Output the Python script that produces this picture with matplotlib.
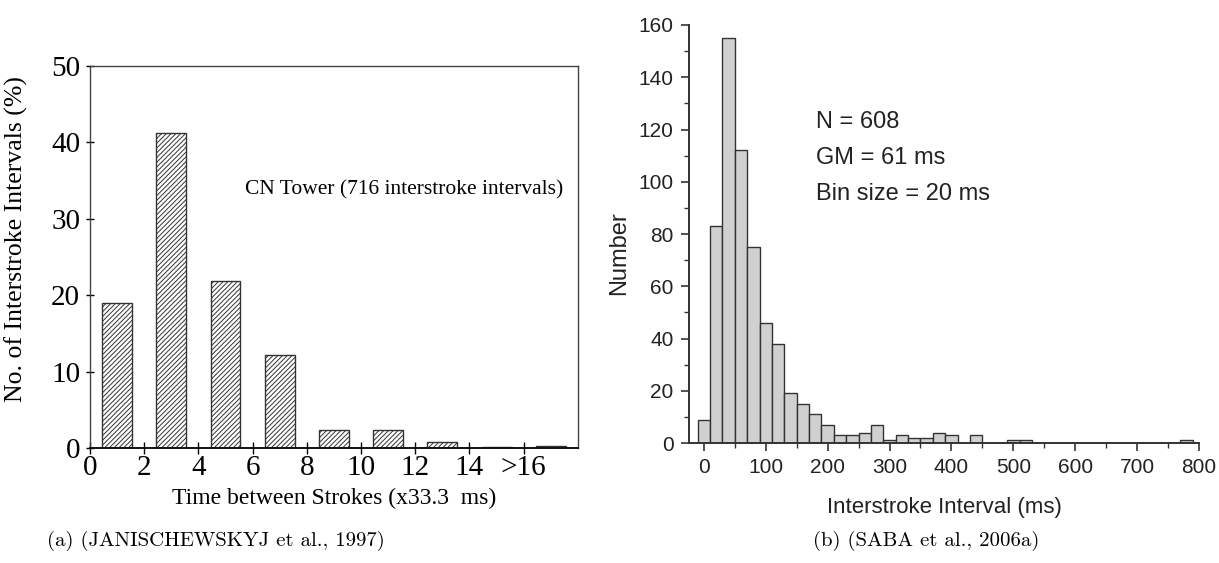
import numpy as np
import matplotlib.pyplot as plt

# (a) CN Tower, intervalos em unidades de 33.3 ms
a_centers = [1, 3, 5, 7, 9, 11, 13, 15, 17]
a_percent = [19.0, 41.2, 21.8, 12.2, 2.4, 2.3, 0.8, 0.1, 0.3]
a_ticks = [0, 2, 4, 6, 8, 10, 12, 14, 16]
a_ticklabels = ['0', '2', '4', '6', '8', '10', '12', '14', '>16']

# (b) histograma, bins de 20 ms
b_centers = [0, 20, 40, 60, 80, 100, 120, 140, 160, 180, 200, 220, 240, 260, 280,
             300, 320, 340, 360, 380, 400, 440, 500, 520, 780]
b_counts = [9, 83, 155, 112, 75, 46, 38, 19, 15, 11, 7, 3, 3, 4, 7,
            1, 3, 2, 2, 4, 3, 3, 1, 1, 1]

fig = plt.figure(figsize=(12.19, 5.63), dpi=100)

# ---- painel (a)
ax1 = fig.add_axes([0.0738, 0.2043, 0.4003, 0.6785])
plt.rcParams['hatch.linewidth'] = 0.7
plt.rcParams['hatch.color'] = '#333333'
ax1.bar(a_centers, a_percent, width=1.1, color='white', edgecolor='#333333',
        linewidth=1.0, hatch='///////')
ax1.set_xlim(0, 18)
ax1.set_ylim(0, 50)
ax1.set_xticks(a_ticks)
ax1.set_xticklabels(a_ticklabels)
ax1.set_yticks([0, 10, 20, 30, 40, 50])
serif = 'Liberation Serif'
for lab in ax1.get_xticklabels() + ax1.get_yticklabels():
    lab.set_fontfamily(serif)
    lab.set_fontsize(21)
ax1.tick_params(axis='x', direction='inout', length=8, width=1, pad=1)
ax1.tick_params(axis='y', direction='inout', length=6, width=1, pad=4)
for s in ax1.spines.values():
    s.set_linewidth(1.0)
    s.set_color('#444444')
ax1.spines['bottom'].set_color('#111111')
ax1.spines['bottom'].set_linewidth(1.4)
ax1.set_ylabel('No. of Interstroke Intervals (%)', fontfamily=serif, fontsize=18.5)
ax1.yaxis.set_label_coords(-0.127, 0.547)
ax1.set_xlabel('Time between Strokes (x33.3  ms)', fontfamily=serif,
               fontsize=17, labelpad=5)
ax1.text(0.97, 0.675, 'CN Tower (716 interstroke intervals)', transform=ax1.transAxes,
         ha='right', va='center', fontfamily=serif, fontsize=15.5)

# ---- painel (b)
ax2 = fig.add_axes([0.5652, 0.2131, 0.4184, 0.7425])
ax2.bar(b_centers, b_counts, width=20, color='#d0d0d0', edgecolor='#333333',
        linewidth=1.0)
ax2.set_xlim(-24, 800)
ax2.set_ylim(0, 160)
ax2.set_xticks(np.arange(0, 801, 100))
ax2.set_yticks(np.arange(0, 161, 20))
ax2.set_xticks(np.arange(50, 800, 100), minor=True)
ax2.set_yticks(np.arange(10, 160, 20), minor=True)
ax2.spines['top'].set_visible(False)
ax2.spines['right'].set_visible(False)
for s in ('left', 'bottom'):
    ax2.spines[s].set_linewidth(1.4)
    ax2.spines[s].set_color('#333333')
sans = 'Liberation Sans'
ax2.tick_params(which='major', direction='out', length=6, width=1.2,
                color='#333333', labelsize=15, pad=5)
ax2.tick_params(which='minor', direction='out', length=3.5, width=1.0,
                color='#333333')
for lab in ax2.get_xticklabels() + ax2.get_yticklabels():
    lab.set_fontfamily(sans)
    lab.set_color('#222222')
ax2.set_ylabel('Number', fontfamily=sans, fontsize=17, color='#222222')
ax2.yaxis.set_label_coords(-0.115, 0.455)
ax2.set_xlabel('Interstroke Interval (ms)', fontfamily=sans, fontsize=16,
               color='#222222', labelpad=14)
for i, t in enumerate(['N = 608', 'GM = 61 ms', 'Bin size = 20 ms']):
    ax2.text(0.25, 0.768 - i * 0.086, t, transform=ax2.transAxes, ha='left',
             va='center', fontfamily=sans, fontsize=17, color='#222222')

# ---- legendas das figuras
fig.text(0.177, 0.04, '(a) (JANISCHEWSKYJ et al., 1997)', ha='center', va='center',
         fontfamily='cmr10', fontsize=15)
fig.text(0.760, 0.04, '(b) (SABA et al., 2006a)', ha='center', va='center',
         fontfamily='cmr10', fontsize=15)

fig.savefig('out.png', dpi=100)
